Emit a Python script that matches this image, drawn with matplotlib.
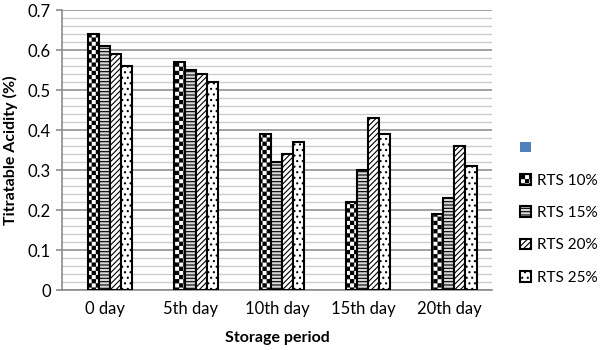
import warnings
import numpy as np
import matplotlib
matplotlib.use('Agg')
import matplotlib.pyplot as plt
from matplotlib import hatch as mhatch
from matplotlib.path import Path

warnings.filterwarnings('ignore')

# Data
days = ['0 day', '5th day', '10th day', '15th day', '20th day']
blank = [np.nan] * 5
rts10 = [0.64, 0.57, 0.39, 0.22, 0.19]
rts15 = [0.61, 0.55, 0.32, 0.30, 0.23]
rts20 = [0.59, 0.54, 0.34, 0.43, 0.36]
rts25 = [0.56, 0.52, 0.37, 0.39, 0.31]


# checkerboard hatch ('c'), matplotlib has none built in
class CheckerHatch(mhatch.HatchPatternBase):
    def __init__(self, hatch, density):
        self.n = hatch.count('c') * density
        self.num_vertices = (self.n * self.n // 2) * 5

    def set_vertices_and_codes(self, vertices, codes):
        s = 1.0 / self.n
        d = 0.005
        k = 0
        for i in range(self.n):
            for j in range(self.n):
                if (i + j) % 2 == 0:
                    x, y = i * s + d, j * s + d
                    w = s - 2 * d
                    vertices[k:k + 5] = [(x, y), (x + w, y), (x + w, y + w), (x, y + w), (x, y)]
                    codes[k:k + 5] = [Path.MOVETO, Path.LINETO, Path.LINETO, Path.LINETO, Path.CLOSEPOLY]
                    k += 5


mhatch._hatch_types.append(CheckerHatch)

plt.rcParams['font.family'] = ['Lato', 'DejaVu Sans']
plt.rcParams['hatch.linewidth'] = 0.8

fig = plt.figure(figsize=(6, 3.5), dpi=100)
ax = fig.add_axes([0.103, 0.171, 0.717, 0.8])

x = np.arange(len(days))
w = 0.128
series = [(blank, ' ', '#4F81BD', None),
          (rts10, 'RTS 10%', 'white', 'cccc'),
          (rts15, 'RTS 15%', '#d8d8d8', '-----'),
          (rts20, 'RTS 20%', 'white', '//////'),
          (rts25, 'RTS 25%', 'white', '...')]
for i, (vals, lab, fc, h) in enumerate(series):
    if h is None:
        ax.bar(x + (i - 2) * w, vals, w, color=fc, label=lab, linewidth=0)
    else:
        ax.bar(x + (i - 2) * w, vals, w, facecolor=fc, edgecolor='black',
               hatch=h, linewidth=1.5, label=lab, zorder=3)

ax.set_xlim(-0.5, 4.5)
ax.set_ylim(0, 0.7)
ax.set_yticks(np.arange(0, 0.71, 0.1))
ax.set_yticklabels(['0', '0.1', '0.2', '0.3', '0.4', '0.5', '0.6', '0.7'])
ax.set_yticks(np.arange(0, 0.7, 0.02), minor=True)
ax.set_xticks(x)
ax.set_xticklabels(days)

ax.grid(axis='y', which='major', color='#9a9a9a', linewidth=1.3, zorder=0)
ax.grid(axis='y', which='minor', color='#cccccc', linewidth=1.0, zorder=0)
ax.set_axisbelow(True)

for s in ['top', 'right']:
    ax.spines[s].set_visible(False)
for s in ['left', 'bottom']:
    ax.spines[s].set_color('#8c8c8c')
    ax.spines[s].set_linewidth(1.2)

ax.tick_params(axis='y', which='major', length=4, color='#8c8c8c', width=1.2,
               labelsize=12, pad=4)
ax.tick_params(axis='y', which='minor', length=0)
ax.tick_params(axis='x', length=0, labelsize=12, pad=8)

ax.set_ylabel('Titratable Acidity (%)', fontsize=11.5, fontweight='bold', labelpad=7)
ax.set_xlabel('Storage period', fontsize=11.5, fontweight='bold', labelpad=10)

fig.legend(loc='center left', bbox_to_anchor=(0.867, 0.391), frameon=False,
           fontsize=11, handlelength=0.7, handleheight=0.7, handletextpad=0.4,
           labelspacing=1.2, borderpad=0, borderaxespad=0)

fig.savefig('out.png', dpi=100)
